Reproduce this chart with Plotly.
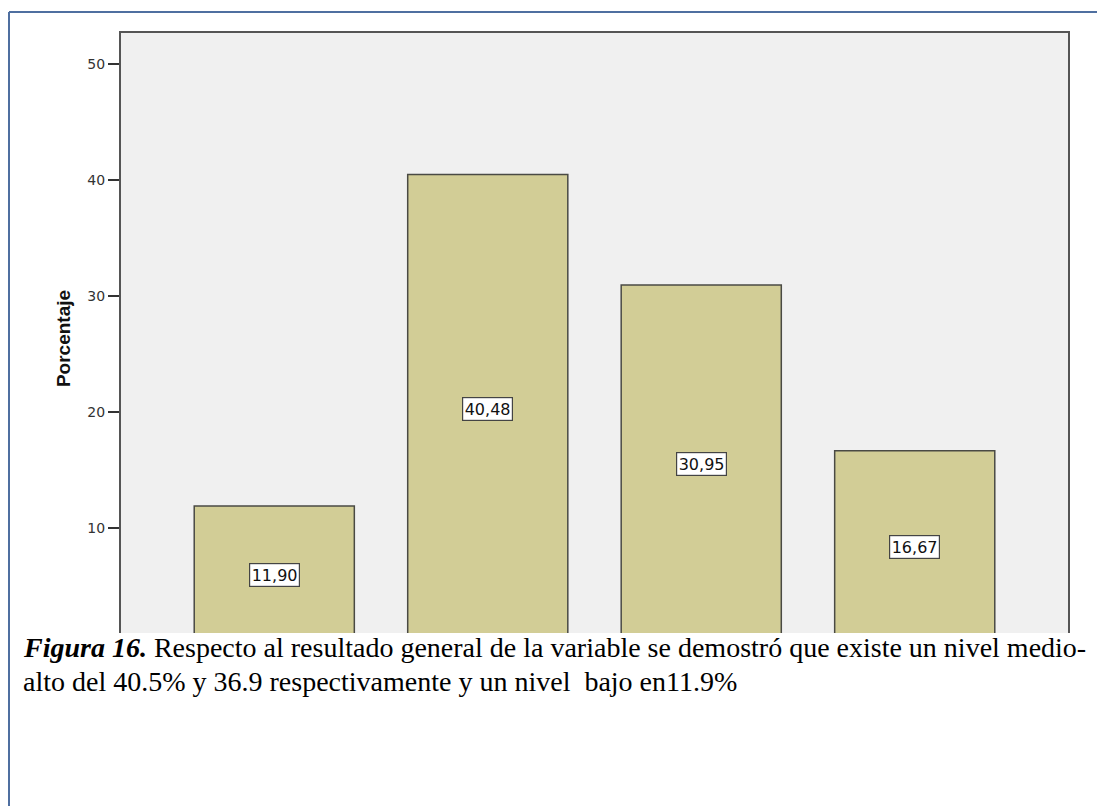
import plotly.graph_objects as go

# Data
categorias = ["Bajo", "Medio", "Alto", "Muy alto"]
porcentajes = [11.90, 40.48, 30.95, 16.67]
etiquetas = ["11,90", "40,48", "30,95", "16,67"]
y_ticks = [10, 20, 30, 40, 50]
caption_1 = "<b><i>Figura 16.</i></b> Respecto al resultado general de la variable se demostró que existe un nivel medio-"
caption_2 = "alto del 40.5% y 36.9 respectivamente y un nivel\u00a0 bajo en11.9%"

W, H = 1097, 806
L, R, T, B = 121, 29, 33, 162
pw, ph = W - L - R, H - T - B


def px_x(px):
    return (px - L) / pw


def px_y(py):
    return (H - B - py) / ph


SERIF = "Liberation Serif, Times New Roman, DejaVu Serif, serif"
SANS = "DejaVu Sans, Verdana, sans-serif"

fig = go.Figure()
fig.add_trace(go.Bar(
    x=categorias, y=porcentajes, width=0.75,
    marker=dict(color="#d2cd96", line=dict(color="#4a4a44", width=1.5)),
    hoverinfo="x+y",
))

annotations = []
for c, v, t in zip(categorias, porcentajes, etiquetas):
    annotations.append(dict(
        x=c, y=v / 2, xref="x", yref="y", text=t, showarrow=False,
        font=dict(family=SANS, size=16, color="#111"),
        bgcolor="white", bordercolor="#444", borderwidth=1.2, borderpad=1.5,
    ))

for txt, yc in [(caption_1, 647), (caption_2, 681)]:
    annotations.append(dict(
        x=px_x(21), y=px_y(yc), xref="paper", yref="paper",
        xanchor="left", yanchor="middle", showarrow=False, align="left",
        text=txt, font=dict(family=SERIF, size=28, color="black"),
    ))

shapes = [
    dict(type="rect", xref="paper", yref="paper", layer="above",
         x0=px_x(10), x1=px_x(W + 5), y0=px_y(633), y1=px_y(H + 5),
         fillcolor="white", line=dict(width=0)),
    dict(type="line", xref="paper", yref="paper", layer="above",
         x0=px_x(9), x1=px_x(W + 5), y0=px_y(12), y1=px_y(12),
         line=dict(color="#4f6fa0", width=2)),
    dict(type="line", xref="paper", yref="paper", layer="above",
         x0=px_x(9), x1=px_x(9), y0=px_y(12), y1=px_y(H + 5),
         line=dict(color="#4f6fa0", width=2)),
]

fig.update_layout(
    width=W, height=H,
    margin=dict(l=L, r=R, t=T, b=B, autoexpand=False),
    paper_bgcolor="white", plot_bgcolor="#f0f0f0",
    showlegend=False,
    annotations=annotations, shapes=shapes,
    font=dict(family=SANS, color="#333"),
)
fig.update_xaxes(
    type="category", range=[-0.718, 3.718], showticklabels=False,
    showline=True, linecolor="#555", linewidth=2, mirror=True,
    showgrid=False, ticks="",
)
fig.update_yaxes(
    range=[0, (H - B - T) / 11.6], tickvals=y_ticks,
    ticks="outside", ticklen=11, tickwidth=1.5, tickcolor="#333",
    tickfont=dict(family=SANS, size=14, color="#333"),
    showline=True, linecolor="#555", linewidth=2, mirror=True,
    showgrid=False, zeroline=False,
    title=dict(text="<b>Porcentaje</b>", standoff=12,
               font=dict(family="Liberation Sans, Arial", size=19, color="#111")),
)

fig.write_html("out.html", config={"displayModeBar": False},
               post_script="document.body.style.margin='0';")
